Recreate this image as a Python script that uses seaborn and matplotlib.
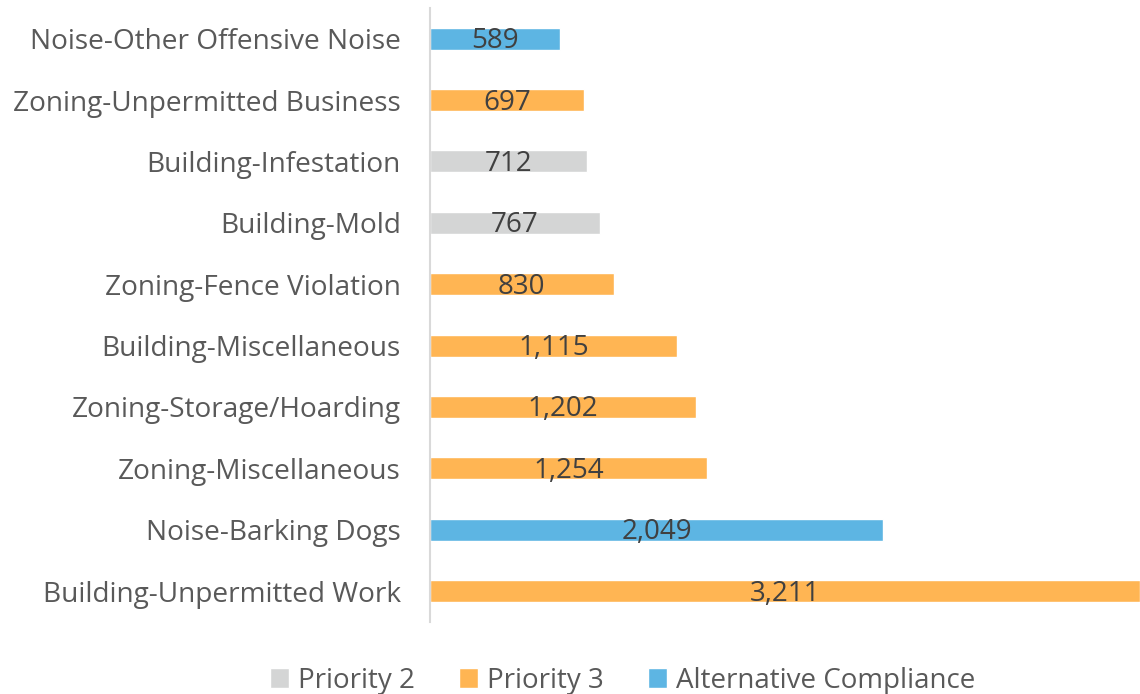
"""
Horizontal bar chart: top complaint categories by priority.
"""

import matplotlib

matplotlib.use("Agg")
import matplotlib.pyplot as plt
import pandas as pd
import seaborn as sns

# Данные (сверху вниз)
categories = [
    "Noise-Other Offensive Noise",
    "Zoning-Unpermitted Business",
    "Building-Infestation",
    "Building-Mold",
    "Zoning-Fence Violation",
    "Building-Miscellaneous",
    "Zoning-Storage/Hoarding",
    "Zoning-Miscellaneous",
    "Noise-Barking Dogs",
    "Building-Unpermitted Work",
]
counts = [589, 697, 712, 767, 830, 1115, 1202, 1254, 2049, 3211]
priorities = [
    "Alternative Compliance",
    "Priority 3",
    "Priority 2",
    "Priority 2",
    "Priority 3",
    "Priority 3",
    "Priority 3",
    "Priority 3",
    "Alternative Compliance",
    "Priority 3",
]
legend_order = ["Priority 2", "Priority 3", "Alternative Compliance"]
palette = {
    "Priority 2": "#D4D5D5",
    "Priority 3": "#FFB553",
    "Alternative Compliance": "#5DB5E3",
}

df = pd.DataFrame({"Category": categories, "Count": counts, "Priority": priorities})

sns.set_style("white")
plt.rcParams["font.family"] = ["Open Sans", "DejaVu Sans"]
text_color = "#595959"

fig = plt.figure(figsize=(11.4, 6.94), dpi=100)
ax = fig.add_axes([0.3772, 0.104, 0.6228, 0.8845])

sns.barplot(
    data=df,
    y="Category",
    x="Count",
    hue="Priority",
    hue_order=legend_order,
    palette=palette,
    order=categories,
    dodge=False,
    width=0.36,
    orient="h",
    saturation=1,
    ax=ax,
)

ax.set_xlim(0, 3211)
ax.set_ylim(len(categories) - 0.5, -0.5)
ax.set_xlabel("")
ax.set_ylabel("")
ax.set_xticks([])
ax.tick_params(axis="y", length=0, pad=21, labelsize=20.2, labelcolor=text_color)

for side in ["top", "right", "bottom"]:
    ax.spines[side].set_visible(False)
ax.spines["left"].set_color("#D9D9D9")
ax.spines["left"].set_linewidth(1.5)

# Подписи значений по центру столбцов
for i, v in enumerate(counts):
    ax.text(
        v / 2,
        i + 0.04,
        f"{v:,}",
        ha="center",
        va="center",
        fontsize=20,
        color="#404040",
    )

sns.move_legend(
    ax,
    "lower center",
    bbox_to_anchor=(0.546, -0.037),
    bbox_transform=fig.transFigure,
    ncol=3,
    frameon=False,
    title=None,
    fontsize=20,
    handlelength=0.7,
    handleheight=0.7,
    handletextpad=0.3,
    columnspacing=1.6,
    labelcolor=text_color,
)

plt.savefig("out.png", dpi=100)
plt.close(fig)
